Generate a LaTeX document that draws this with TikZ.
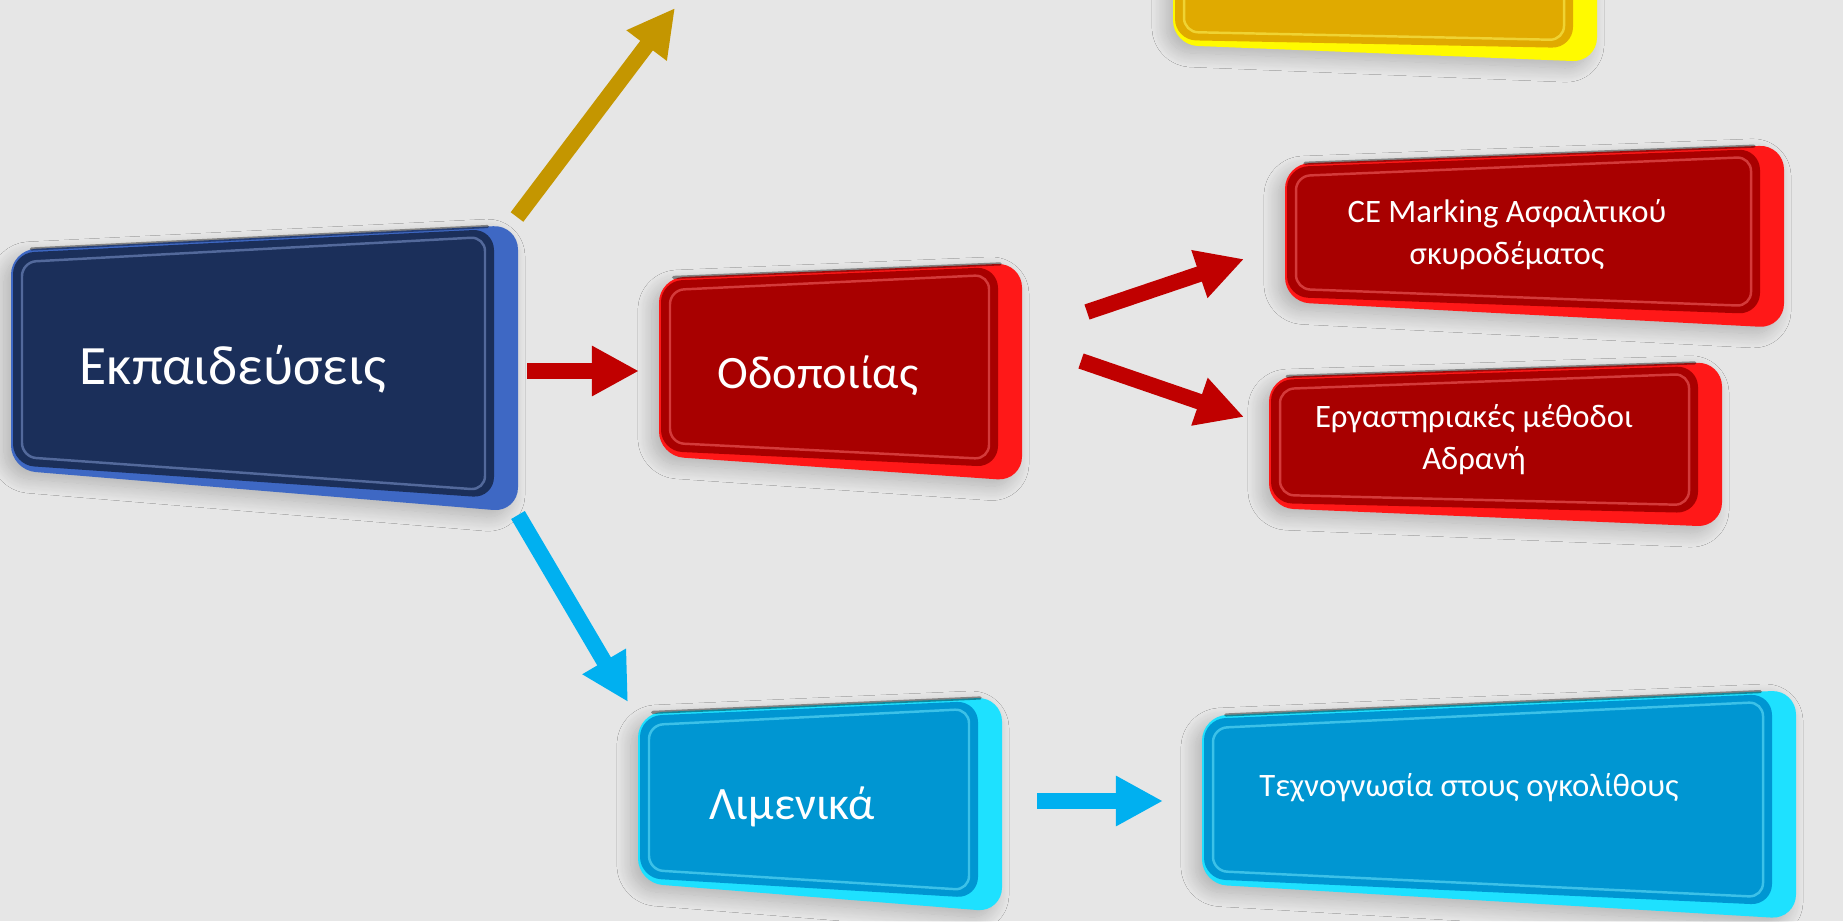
\documentclass[tikz,border=0pt]{standalone}
\usepackage{fontspec}
\setmainfont{Carlito}
\usetikzlibrary{calc}
\usetikzlibrary{arrows.meta}
\usetikzlibrary{shadows.blur}
\definecolor{bgcol}{RGB}{230,230,230}
\definecolor{navyface}{RGB}{27,47,90}
\definecolor{navyrim}{RGB}{62,104,196}
\definecolor{redface}{RGB}{168,0,0}
\definecolor{redrim}{RGB}{255,24,24}
\definecolor{cyanface}{RGB}{0,150,210}
\definecolor{cyanrim}{RGB}{30,225,255}
\definecolor{goldface}{RGB}{224,170,0}
\definecolor{goldrim}{RGB}{255,250,0}
\definecolor{goldarr}{RGB}{196,150,0}
\definecolor{redarr}{RGB}{192,0,0}
\definecolor{bluearr}{RGB}{0,176,240}
% raised plaque: left, right, y top-left, y top-right, y bottom-left, y bottom-right, face, rim
\newcommand{\plaque}[8]{
\fill[#8, rounded corners=7pt, blur shadow={shadow xshift=-2pt, shadow yshift=-2pt, shadow blur radius=4pt, shadow blur steps=16, shadow opacity=22}] (#1,#3) -- (#2,#4) -- (#2,#6) -- (#1,#5) -- cycle;
\fill[#7, rounded corners=6pt] (#1+2,#3+3) -- (#2-24,#4+4) -- (#2-24,#6-14) -- (#1+2,#5-5) -- cycle;
\draw[#8!60!white, opacity=.5, line width=0.7pt, rounded corners=4pt] (#1+11,#3+12) -- (#2-33,#4+12) -- (#2-33,#6-22) -- (#1+11,#5-13) -- cycle;
\draw[black, opacity=.4, line width=0.9pt, line cap=round] ($(#1,#3)!0.04!(#2,#4)$) -- ($(#1,#3)!0.94!(#2,#4)$);
}
\tikzset{
  boxtxt/.style = {text=white, inner sep=0pt},
  bigtxt/.style = {boxtxt, font=\fontsize{15.8}{19}\selectfont},
  midtxt/.style = {boxtxt, font=\fontsize{13.2}{16}\selectfont},
  smalltxt/.style = {boxtxt, align=center, font=\fontsize{9.3}{12}\selectfont},
  blockarrow/.style = {line width=4.5pt, -{Triangle[width=13.4pt, length=13.4pt]}}
}
\begin{document}
\begin{tikzpicture}[x=0.01cm, y=-0.01cm]
\clip (0,0) rectangle (1843,921);
\fill[bgcol] (0,0) rectangle (1843,921);

% plaques
\plaque{1173}{1597}{-200}{-200}{45}{62}{goldface}{goldrim}
\plaque{11}{518}{250}{225}{470}{512}{navyface}{navyrim}
\plaque{659}{1022}{278}{263}{456}{481}{redface}{redrim}
\plaque{1285}{1784}{164}{145}{302}{328}{redface}{redrim}
\plaque{1269}{1722}{377}{362}{508}{527}{redface}{redrim}
\plaque{638}{1002}{713}{697}{883}{912}{cyanface}{cyanrim}
\plaque{1202}{1796}{716}{690}{884}{919}{cyanface}{cyanrim}

% texts
\node[bigtxt, anchor=base] (edu) at (233,384) {Εκπαιδεύσεις};
\node[midtxt, anchor=base] (road) at (818,388) {Οδοποιίας};
\node[midtxt, anchor=base] (port) at (792,819) {Λιμενικά};
\node[smalltxt] (cemark) at (1507,235) {CE Marking Ασφαλτικού\\σκυροδέματος};
\node[smalltxt] (labmeth) at (1474,440) {Εργαστηριακές μέθοδοι\\Αδρανή};
\node[smalltxt, anchor=base] (knowhow) at (1469,796) {Τεχνογνωσία στους ογκολίθους};

% arrows
\coordinate (up0) at (517,217);
\coordinate (up1) at (675,8);
\coordinate (mid0) at (527,371);
\coordinate (mid1) at (639,371);
\coordinate (down0) at (518,515);
\coordinate (down1) at (628,702);
\coordinate (ce0) at (1087,312);
\coordinate (ce1) at (1244,259);
\coordinate (lab0) at (1081,361);
\coordinate (lab1) at (1244,417);
\coordinate (port0) at (1037,801);
\coordinate (port1) at (1163,801);
\draw[blockarrow, goldarr] (up0) -- (up1);
\draw[blockarrow, redarr] (mid0) -- (mid1);
\draw[blockarrow, bluearr] (down0) -- (down1);
\draw[blockarrow, redarr] (ce0) -- (ce1);
\draw[blockarrow, redarr] (lab0) -- (lab1);
\draw[blockarrow, bluearr] (port0) -- (port1);
\end{tikzpicture}
\end{document}
